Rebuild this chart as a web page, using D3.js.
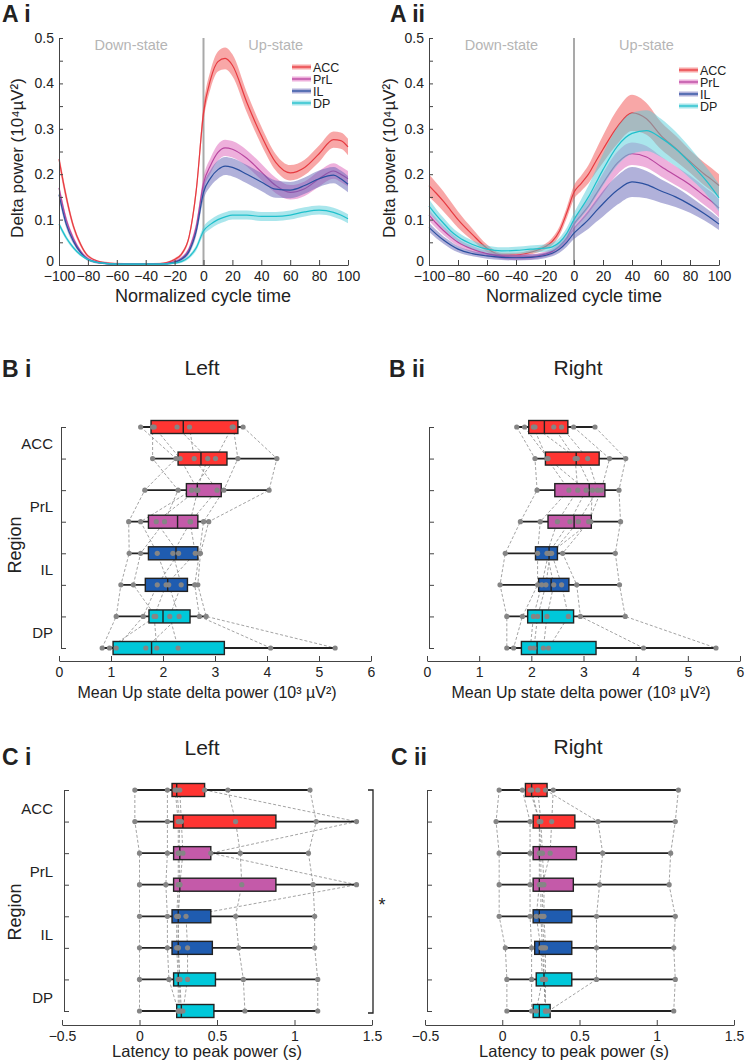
<!DOCTYPE html>
<html>
<head>
<meta charset="utf-8">
<script src="https://cdn.jsdelivr.net/npm/d3@7"></script>
<style>
body { margin: 0; background: #fff; }
svg { font-family: "Liberation Sans", Arial, Helvetica, sans-serif; }
</style>
</head>
<body>
<svg id="fig" width="745" height="1063"></svg>
<script>
// ---- data ----
var regions = ["ACC", "PrL", "IL", "DP"];
var lineColors = ["#e63a40", "#b8469f", "#2a4f9f", "#1fc0cc"];
var bandColors = ["#f25050", "#dd62b9", "#6464b6", "#55cdd9"];
var boxColors = ["#ff3532", "#c45aa9", "#1f5cb0", "#00c8da"];

// normalized cycle time samples
var cycleX = [-100, -95, -90, -85, -80, -70, -60, -50, -40, -30, -20, -15, -10, -5, 0, 5, 10, 15, 20, 30, 40, 50, 60, 70, 80, 90, 95, 100];

// A i (left), delta power in 10^4 uV^2
var leftACC = [0.233, 0.15, 0.085, 0.045, 0.02, 0.006, 0.003, 0.002, 0.002, 0.003, 0.012, 0.025, 0.062, 0.165, 0.335, 0.41, 0.448, 0.455, 0.44, 0.358, 0.285, 0.226, 0.203, 0.215, 0.245, 0.276, 0.274, 0.26];
var leftACCErr = [0.012, 0.01, 0.007, 0.005, 0.003, 0.002, 0.002, 0.002, 0.002, 0.002, 0.003, 0.004, 0.006, 0.012, 0.018, 0.02, 0.022, 0.024, 0.024, 0.022, 0.02, 0.018, 0.017, 0.017, 0.018, 0.018, 0.018, 0.018];
var leftPrL = [0.17, 0.1, 0.058, 0.03, 0.014, 0.004, 0.002, 0.002, 0.002, 0.002, 0.007, 0.015, 0.035, 0.085, 0.18, 0.22, 0.248, 0.258, 0.255, 0.235, 0.205, 0.175, 0.16, 0.168, 0.19, 0.207, 0.2, 0.19];
var leftPrLErr = [0.01, 0.008, 0.006, 0.004, 0.003, 0.002, 0.002, 0.002, 0.002, 0.002, 0.003, 0.004, 0.006, 0.01, 0.015, 0.017, 0.018, 0.018, 0.018, 0.018, 0.018, 0.017, 0.016, 0.016, 0.017, 0.017, 0.017, 0.017];
var leftIL = [0.155, 0.09, 0.052, 0.027, 0.012, 0.004, 0.002, 0.002, 0.002, 0.002, 0.006, 0.013, 0.03, 0.075, 0.16, 0.192, 0.21, 0.218, 0.215, 0.2, 0.183, 0.167, 0.165, 0.175, 0.19, 0.198, 0.19, 0.178];
var leftILErr = [0.01, 0.008, 0.006, 0.004, 0.003, 0.002, 0.002, 0.002, 0.002, 0.002, 0.003, 0.004, 0.006, 0.01, 0.016, 0.018, 0.02, 0.02, 0.02, 0.02, 0.02, 0.019, 0.018, 0.018, 0.018, 0.018, 0.018, 0.018];
var leftDP = [0.09, 0.06, 0.038, 0.022, 0.012, 0.004, 0.002, 0.002, 0.002, 0.002, 0.004, 0.008, 0.018, 0.038, 0.075, 0.09, 0.1, 0.106, 0.11, 0.11, 0.107, 0.107, 0.11, 0.117, 0.121, 0.116, 0.11, 0.102];
var leftDPErr = [0.006, 0.005, 0.004, 0.003, 0.002, 0.002, 0.002, 0.002, 0.002, 0.002, 0.002, 0.003, 0.004, 0.006, 0.009, 0.01, 0.01, 0.01, 0.01, 0.01, 0.01, 0.01, 0.01, 0.01, 0.01, 0.01, 0.01, 0.01];

// A ii (right)
var rightACC = [0.175, 0.158, 0.14, 0.12, 0.1, 0.067, 0.037, 0.022, 0.022, 0.028, 0.04, 0.052, 0.075, 0.115, 0.16, 0.18, 0.2, 0.228, 0.255, 0.305, 0.335, 0.322, 0.285, 0.257, 0.228, 0.2, 0.188, 0.175];
var rightACCErr = [0.025, 0.023, 0.022, 0.02, 0.018, 0.013, 0.008, 0.005, 0.005, 0.005, 0.006, 0.008, 0.01, 0.012, 0.015, 0.017, 0.02, 0.025, 0.03, 0.038, 0.04, 0.035, 0.03, 0.028, 0.025, 0.025, 0.025, 0.025];
var rightPrL = [0.11, 0.092, 0.076, 0.062, 0.05, 0.035, 0.025, 0.019, 0.017, 0.018, 0.024, 0.03, 0.042, 0.06, 0.09, 0.11, 0.13, 0.155, 0.18, 0.225, 0.245, 0.238, 0.217, 0.197, 0.177, 0.152, 0.14, 0.125];
var rightPrLErr = [0.012, 0.011, 0.01, 0.009, 0.008, 0.007, 0.006, 0.006, 0.006, 0.006, 0.006, 0.007, 0.008, 0.01, 0.012, 0.014, 0.016, 0.019, 0.022, 0.025, 0.025, 0.024, 0.022, 0.021, 0.02, 0.02, 0.02, 0.02];
var rightIL = [0.083, 0.068, 0.055, 0.044, 0.035, 0.025, 0.02, 0.017, 0.016, 0.017, 0.021, 0.026, 0.035, 0.05, 0.07, 0.085, 0.1, 0.118, 0.135, 0.165, 0.183, 0.177, 0.163, 0.15, 0.133, 0.113, 0.102, 0.09];
var rightILErr = [0.01, 0.009, 0.008, 0.008, 0.007, 0.006, 0.006, 0.006, 0.006, 0.006, 0.006, 0.007, 0.008, 0.01, 0.013, 0.016, 0.02, 0.024, 0.028, 0.032, 0.033, 0.03, 0.026, 0.022, 0.018, 0.015, 0.014, 0.013];
var rightDP = [0.13, 0.11, 0.092, 0.075, 0.062, 0.045, 0.035, 0.031, 0.032, 0.035, 0.037, 0.04, 0.05, 0.07, 0.1, 0.125, 0.15, 0.18, 0.21, 0.262, 0.29, 0.296, 0.28, 0.256, 0.225, 0.19, 0.17, 0.148];
var rightDPErr = [0.015, 0.013, 0.012, 0.011, 0.01, 0.009, 0.008, 0.008, 0.008, 0.008, 0.008, 0.009, 0.01, 0.012, 0.015, 0.02, 0.025, 0.03, 0.035, 0.042, 0.045, 0.045, 0.042, 0.038, 0.034, 0.03, 0.03, 0.03];

// rows of the box plots (two rows per region), and region of each row
var rowRegion = [0, 0, 1, 1, 2, 2, 3, 3];

// B: mean Up state delta power (10^3 uV^2), 8 animals per row (same order in each row)
var powerLeft = [
  [3.54, 3.35, 1.57, 2.27, 1.80, 2.51, 3.33, 1.83],
  [4.19, 3.44, 2.25, 2.86, 1.80, 2.60, 3.01, 2.33],
  [4.04, 3.17, 1.65, 2.65, 2.29, 3.04, 2.55, 2.67],
  [2.88, 2.78, 1.34, 1.87, 2.03, 2.53, 1.57, 2.52],
  [2.72, 2.70, 1.35, 2.30, 1.57, 2.19, 1.89, 2.62],
  [2.67, 2.61, 1.19, 1.89, 1.43, 2.35, 2.11, 2.06],
  [2.83, 2.70, 1.10, 1.62, 1.86, 2.13, 2.31, 1.83],
  [5.31, 4.07, 0.83, 1.10, 0.97, 2.29, 1.67, 1.88]
];
// [q1, median, q3]
var powerLeftBox = [[1.77, 2.39, 3.44], [2.29, 2.73, 3.23], [2.45, 2.66, 3.12], [1.72, 2.28, 2.67],
  [1.72, 2.25, 2.67], [1.66, 2.09, 2.47], [1.73, 2.00, 2.52], [1.04, 1.78, 3.18]];

var powerRight = [
  [3.22, 2.81, 1.72, 2.04, 2.58, 1.87, 2.43, 2.07],
  [3.81, 3.50, 2.07, 2.30, 3.08, 2.32, 2.84, 2.88],
  [3.68, 3.34, 2.11, 2.72, 3.27, 3.05, 2.89, 3.17],
  [3.71, 3.10, 1.79, 2.17, 2.90, 2.74, 2.50, 3.14],
  [3.61, 2.60, 1.50, 2.12, 2.39, 2.33, 2.30, 2.36],
  [3.69, 2.87, 1.40, 2.12, 2.58, 2.20, 2.43, 2.28],
  [3.80, 2.94, 1.53, 1.83, 2.71, 2.04, 2.30, 2.12],
  [5.54, 4.15, 1.53, 1.66, 2.33, 1.98, 2.23, 2.05]
];
var powerRightBox = [[1.95, 2.25, 2.70], [2.27, 2.86, 3.30], [2.45, 3.11, 3.41], [2.32, 2.82, 3.15],
  [2.08, 2.34, 2.50], [2.14, 2.38, 2.72], [1.93, 2.21, 2.81], [1.81, 2.11, 3.24]];

// C: latency to peak power (s)
var latencyLeft = [
  [-0.03, 0.18, 0.23, 0.24, 0.26, 0.42, 0.57, 1.10],
  [-0.03, 0.18, 0.25, 0.26, 0.27, 1.40, 0.62, 1.14],
  [0.00, 0.18, 0.25, 0.255, 0.28, 0.46, 0.65, 1.09],
  [0.00, 0.17, 0.25, 0.26, 0.26, 1.40, 0.66, 1.12],
  [0.00, 0.18, 0.24, 0.25, 0.25, 0.30, 0.62, 1.13],
  [0.00, 0.18, 0.24, 0.25, 0.25, 0.31, 0.64, 1.13],
  [0.00, 0.19, 0.25, 0.26, 0.26, 0.31, 0.67, 1.15],
  [0.00, 0.25, 0.25, 0.26, 0.27, 0.28, 0.68, 1.15]
];
var latencyLeftBox = [[0.21, 0.24, 0.42], [0.22, 0.28, 0.88], [0.22, 0.26, 0.46], [0.22, 0.26, 0.88],
  [0.21, 0.25, 0.46], [0.21, 0.25, 0.47], [0.22, 0.25, 0.49], [0.24, 0.27, 0.48]];

var latencyRight = [
  [-0.02, 0.13, 0.18, 0.19, 0.23, 0.33, 0.28, 1.14],
  [-0.04, 0.18, 0.24, 0.24, 0.25, 0.32, 0.62, 1.12],
  [-0.02, 0.18, 0.24, 0.25, 0.26, 0.31, 0.65, 1.09],
  [-0.02, 0.18, 0.24, 0.25, 0.27, 0.26, 0.63, 1.08],
  [-0.02, 0.18, 0.22, 0.25, 0.27, 0.26, 0.61, 1.12],
  [0.02, 0.19, 0.25, 0.26, 0.28, 0.27, 0.61, 1.11],
  [0.03, 0.19, 0.26, 0.27, 0.28, 0.27, 0.61, 1.12],
  [0.03, 0.19, 0.22, 0.28, 0.28, 0.28, 0.30, 1.11]
];
var latencyRightBox = [[0.15, 0.19, 0.29], [0.20, 0.24, 0.47], [0.20, 0.24, 0.48], [0.20, 0.24, 0.46],
  [0.20, 0.24, 0.45], [0.21, 0.24, 0.45], [0.22, 0.27, 0.45], [0.20, 0.24, 0.31]];

var powerTicks = [0, 1, 2, 3, 4, 5, 6];
var latencyTicks = [-0.5, 0, 0.5, 1, 1.5];

// ---- drawing ----
var svg = d3.select("#fig");
var ink = "#222";

function styleAxis(g, size) {
  g.attr("font-family", null).attr("font-size", null);
  g.select(".domain").attr("stroke", "#444");
  g.selectAll(".tick line").attr("stroke", "#444");
  g.selectAll(".tick text").attr("fill", ink).style("font-size", size + "px");
}

function text(x, y, str, size, opts) {
  opts = opts || {};
  var t = svg.append("text")
    .attr("x", x).attr("y", y)
    .attr("text-anchor", opts.anchor || "middle")
    .attr("font-size", size)
    .attr("fill", opts.fill || ink)
    .text(str);
  if (opts.bold) t.attr("font-weight", "bold");
  if (opts.rotate) t.attr("transform", "rotate(-90," + x + "," + y + ")");
  return t;
}

function traces(x0, x1, series, errs, legX, legY) {
  var x = d3.scaleLinear().domain([-100, 100]).range([x0, x1]);
  var y = d3.scaleLinear().domain([0, 0.5]).range([265, 38]);
  var g = svg.append("g");

  g.append("line")
    .attr("x1", x(0)).attr("x2", x(0))
    .attr("y1", y(0.5)).attr("y2", y(0))
    .attr("stroke", "#a9a9a9").attr("stroke-width", 2);

  g.append("text").attr("x", x(-50)).attr("y", 50).attr("text-anchor", "middle")
    .attr("font-size", 14.5).attr("fill", "#b5b5b5").text("Down-state");
  g.append("text").attr("x", x(50)).attr("y", 50).attr("text-anchor", "middle")
    .attr("font-size", 14.5).attr("fill", "#b5b5b5").text("Up-state");

  series.forEach(function(vals, k) {
    var err = errs[k];
    var band = d3.area()
      .x(function(d, i) { return x(cycleX[i]); })
      .y0(function(d, i) { return y(Math.max(0, d - err[i])); })
      .y1(function(d, i) { return y(d + err[i]); })
      .curve(d3.curveMonotoneX);
    var line = d3.line()
      .x(function(d, i) { return x(cycleX[i]); })
      .y(function(d) { return y(d); })
      .curve(d3.curveMonotoneX);
    g.append("path").attr("d", band(vals))
      .attr("fill", bandColors[k]).attr("fill-opacity", 0.5);
    g.append("path").attr("d", line(vals))
      .attr("fill", "none").attr("stroke", lineColors[k]).attr("stroke-width", 1.2);
  });

  var xAxis = g.append("g").attr("transform", "translate(0," + y(0) + ")")
    .call(d3.axisBottom(x).tickValues(d3.range(-100, 101, 20))
      .tickSizeInner(-5).tickSizeOuter(0).tickPadding(6));
  styleAxis(xAxis, 14);

  var yAxis = g.append("g").attr("transform", "translate(" + x0 + ",0)")
    .call(d3.axisLeft(y).tickValues(d3.range(0, 0.501, 0.05))
      .tickSizeInner(-4).tickSizeOuter(0).tickPadding(5)
      .tickFormat(function(d) {
        var k = Math.round(d * 100);
        if (k % 10 !== 0) return "";
        return k === 0 ? "0" : d3.format(".1f")(d);
      }));
  styleAxis(yAxis, 14);
  // the zero label sits a little above its tick, clear of the x labels
  yAxis.selectAll(".tick text").filter(function(d) { return d === 0; }).attr("y", -4);

  regions.forEach(function(r, k) {
    var ly = legY + k * 12;
    g.append("line").attr("x1", legX).attr("x2", legX + 19).attr("y1", ly).attr("y2", ly)
      .attr("stroke", bandColors[k]).attr("stroke-opacity", 0.5).attr("stroke-width", 5);
    g.append("line").attr("x1", legX).attr("x2", legX + 19).attr("y1", ly).attr("y2", ly)
      .attr("stroke", lineColors[k]).attr("stroke-width", 1.3);
    g.append("text").attr("x", legX + 21).attr("y", ly + 4.5)
      .attr("font-size", 12.5).attr("fill", ink).text(r);
  });
}

function boxes(x0, x1, domain, ticks, pts, stats, yTop, yBot, axisY) {
  var x = d3.scaleLinear().domain(domain).range([x0, x1]);
  var y = d3.scalePoint().domain(d3.range(pts.length)).range([yTop, yBot]);
  var g = svg.append("g");
  var h = 6.5;

  // dashed lines joining each animal across rows
  var link = d3.line()
    .x(function(d) { return x(d.v); })
    .y(function(d) { return y(d.r); });
  d3.range(pts[0].length).forEach(function(a) {
    var track = pts.map(function(row, r) { return { r: r, v: row[a] }; });
    g.append("path").attr("d", link(track))
      .attr("fill", "none").attr("stroke", "#8c8c8c")
      .attr("stroke-width", 0.8).attr("stroke-dasharray", "3,2");
  });

  pts.forEach(function(row, r) {
    var cy = y(r);
    var s = stats[r];
    g.append("line")
      .attr("x1", x(d3.min(row))).attr("x2", x(d3.max(row)))
      .attr("y1", cy).attr("y2", cy)
      .attr("stroke", ink).attr("stroke-width", 1.8);
    g.append("rect")
      .attr("x", x(s[0])).attr("y", cy - h)
      .attr("width", x(s[2]) - x(s[0])).attr("height", 2 * h)
      .attr("fill", boxColors[rowRegion[r]])
      .attr("stroke", ink).attr("stroke-width", 1.4);
    g.append("line")
      .attr("x1", x(s[1])).attr("x2", x(s[1]))
      .attr("y1", cy - h).attr("y2", cy + h)
      .attr("stroke", ink).attr("stroke-width", 1.4);
    g.selectAll(null).data(row).enter().append("circle")
      .attr("cx", function(d) { return x(d); })
      .attr("cy", cy).attr("r", 2.6)
      .attr("fill", "#858585");
  });

  var xAxis = g.append("g").attr("transform", "translate(0," + axisY + ")")
    .call(d3.axisBottom(x).tickValues(ticks)
      .tickSizeInner(-5).tickSizeOuter(0).tickPadding(6)
      .tickFormat(d3.format("")));
  styleAxis(xAxis, 14);

  var yAxis = g.append("g").attr("transform", "translate(" + (x0 + 2) + ",0)")
    .call(d3.axisLeft(y).tickSizeInner(-5).tickSizeOuter(0).tickFormat(""));
  styleAxis(yAxis, 14);
  return y;
}

// ---- panel A ----
traces(59, 348, [leftACC, leftPrL, leftIL, leftDP], [leftACCErr, leftPrLErr, leftILErr, leftDPErr], 292, 67);
traces(429, 719, [rightACC, rightPrL, rightIL, rightDP], [rightACCErr, rightPrLErr, rightILErr, rightDPErr], 679, 70);
text(2, 22, "A i", 23, { anchor: "start", bold: true });
text(390, 22, "A ii", 23, { anchor: "start", bold: true });
text(23, 158, "Delta power (10\u2074\u00b5V\u00b2)", 17, { rotate: true });
text(395, 158, "Delta power (10\u2074\u00b5V\u00b2)", 17, { rotate: true });
text(203, 302, "Normalized cycle time", 18);
text(574, 302, "Normalized cycle time", 18);

// ---- panel B ----
var yB = boxes(59, 371, [0, 6], powerTicks, powerLeft, powerLeftBox, 427, 648, 661);
boxes(427, 740, [0, 6], powerTicks, powerRight, powerRightBox, 427, 648, 661);
text(2, 377, "B i", 23, { anchor: "start", bold: true });
text(389, 377, "B ii", 23, { anchor: "start", bold: true });
text(202, 375, "Left", 21);
text(578, 375, "Right", 21);
text(207, 698, "Mean Up state delta power (10\u00b3 \u00b5V\u00b2)", 16);
text(581, 698, "Mean Up state delta power (10\u00b3 \u00b5V\u00b2)", 16);
text(21, 545, "Region", 18, { rotate: true });
regions.forEach(function(r, k) {
  text(53, (yB(2 * k) + yB(2 * k + 1)) / 2 + 6, r, 15, { anchor: "end" });
});

// ---- panel C ----
var yC = boxes(62, 372, [-0.5, 1.5], latencyTicks, latencyLeft, latencyLeftBox, 790, 1011, 1025);
boxes(425, 734, [-0.5, 1.5], latencyTicks, latencyRight, latencyRightBox, 790, 1011, 1025);
text(2, 765, "C i", 23, { anchor: "start", bold: true });
text(391, 765, "C ii", 23, { anchor: "start", bold: true });
text(202, 755, "Left", 21);
text(578, 754, "Right", 21);
text(207, 1057, "Latency to peak power (s)", 16.5);
text(574, 1057, "Latency to peak power (s)", 16.5);
text(21, 912, "Region", 18, { rotate: true });
regions.forEach(function(r, k) {
  text(53, (yC(2 * k) + yC(2 * k + 1)) / 2 + 8, r, 15, { anchor: "end" });
});

// significance bracket
var bx = 373;
svg.append("path")
  .attr("d", "M" + (bx - 5) + "," + yC(0) + "H" + bx + "V" + (yC(7) + 2) + "H" + (bx - 5))
  .attr("fill", "none").attr("stroke", ink).attr("stroke-width", 1.3);
text(382, 911, "*", 18);
</script>
</body>
</html>
